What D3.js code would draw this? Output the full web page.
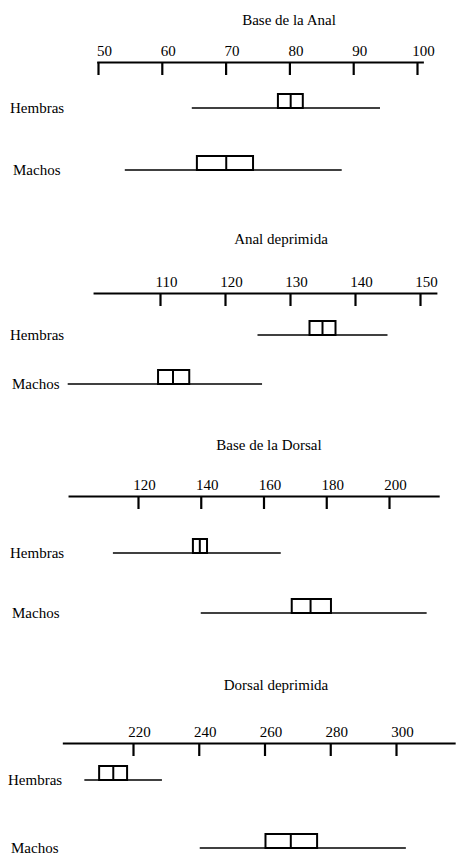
<!DOCTYPE html>
<html><head><meta charset="utf-8">
<script src="https://cdn.jsdelivr.net/npm/d3@7"></script>
<style>
html,body{margin:0;padding:0;background:#fff;}
svg text{font-family:"Liberation Serif","DejaVu Serif",serif;fill:#000;}
</style></head>
<body><svg id="c" width="457" height="855"></svg>
<script>
// ---- data ----
const panelTitles = ["Base de la Anal", "Anal deprimida", "Base de la Dorsal", "Dorsal deprimida"];
const tickValues = [
  [50, 60, 70, 80, 90, 100],
  [110, 120, 130, 140, 150],
  [120, 140, 160, 180, 200],
  [220, 240, 260, 280, 300]
];
const axisExtent = [[49.8, 101], [99.7, 152.6], [97.7, 216], [198.5, 318]];
const groups = ["Hembras", "Machos"];
// [min, q1, median, q3, max]
const hembras = [
  [64.7, 78.2, 80.2, 82.1, 94.2],
  [125, 133, 135, 137, 145],
  [112, 137.5, 139.7, 142, 165.5],
  [205.2, 209.7, 214, 218.2, 228.8]
];
const machos = [
  [54.2, 65.5, 70.1, 74.3, 88.2],
  [95.8, 109.7, 112, 114.5, 125.7],
  [140, 169, 175, 181.5, 212],
  [240.3, 260.3, 268, 276, 303]
];

// ---- layout ----
const layout = [
  {anchor:[98,417], titleX:289, titleY:25, axisY:62, rowY:[108,170], labelX:[10,13]},
  {anchor:[160,420], titleX:281, titleY:244, axisY:293, rowY:[335,384], labelX:[10,12]},
  {anchor:[138,389], titleX:269, titleY:450, axisY:496, rowY:[553,613], labelX:[10,12]},
  {anchor:[133,396], titleX:276, titleY:690, axisY:743, rowY:[780,848], labelX:[8,11]}
];

const svg = d3.select("#c");
const boxH = 14;

panelTitles.forEach((title, i) => {
  const L = layout[i];
  const t = tickValues[i];
  const base = d3.scaleLinear().domain([t[0], t[t.length-1]]).range(L.anchor);
  const x = d3.scaleLinear().domain(axisExtent[i]).range(axisExtent[i].map(base));
  const g = svg.append("g");

  g.append("text").attr("x", L.titleX).attr("y", L.titleY)
    .attr("text-anchor", "middle").attr("font-size", 15).text(title);

  const axis = d3.axisTop(x).tickValues(t).tickSizeInner(-13).tickSizeOuter(0).tickPadding(6)
    .tickFormat(d3.format("d"));
  const ag = g.append("g").attr("transform", `translate(0,${L.axisY})`).call(axis);
  ag.select(".domain").attr("stroke", "#000").attr("stroke-width", 2.2);
  ag.selectAll(".tick line").attr("stroke", "#000").attr("stroke-width", 2.2);
  ag.selectAll(".tick text").attr("font-size", 15).attr("dx", 6)
    .attr("font-family", '"Liberation Serif",serif');

  [hembras[i], machos[i]].forEach((s, k) => {
    const y = L.rowY[k];
    g.append("text").attr("x", L.labelX[k]).attr("y", y + 5).attr("font-size", 15).text(groups[k]);
    g.append("line").attr("x1", x(s[0])).attr("x2", x(s[4])).attr("y1", y).attr("y2", y)
      .attr("stroke", "#000").attr("stroke-width", 1.6);
    g.append("rect").attr("x", x(s[1])).attr("y", y - boxH).attr("width", x(s[3]) - x(s[1]))
      .attr("height", boxH).attr("fill", "none").attr("stroke", "#000").attr("stroke-width", 2);
    g.append("line").attr("x1", x(s[2])).attr("x2", x(s[2])).attr("y1", y - boxH).attr("y2", y)
      .attr("stroke", "#000").attr("stroke-width", 2);
  });
});
</script></body></html>
